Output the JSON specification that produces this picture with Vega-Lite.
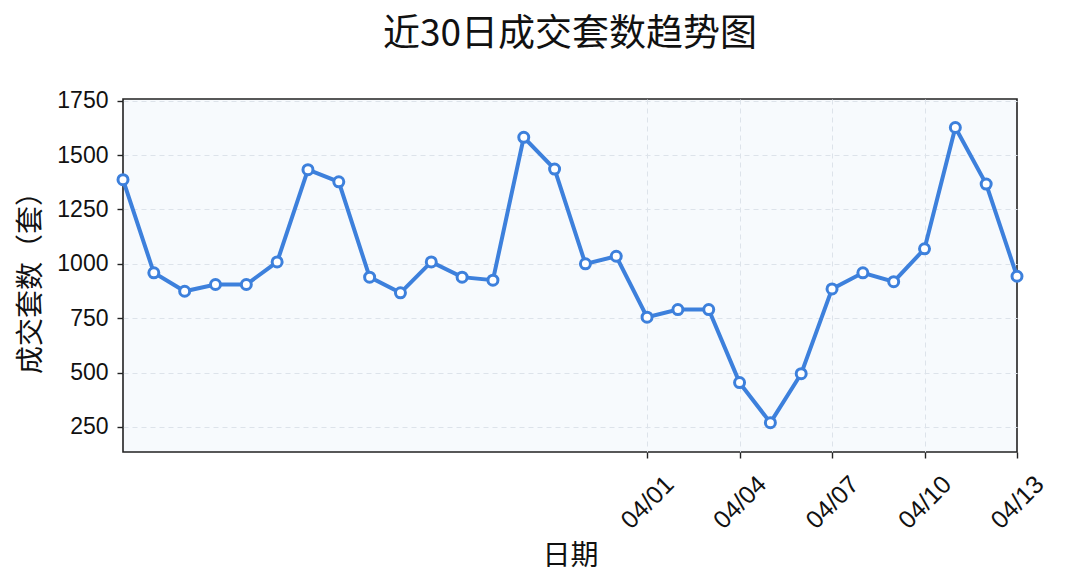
{
  "$schema": "https://vega.github.io/schema/vega-lite/v6.json",
  "width": 894,
  "height": 353,
  "autosize": "none",
  "padding": {"left": 123, "top": 99, "right": 48, "bottom": 133},
  "background": "white",
  "title": {
    "text": "近30日成交套数趋势图",
    "font": "Noto Sans CJK SC",
    "fontSize": 37,
    "fontWeight": "normal",
    "color": "#111111",
    "anchor": "middle",
    "offset": 36
  },
  "config": {
    "view": {"fill": "#f7fafd", "stroke": "#222222", "strokeWidth": 1.6},
    "axis": {
      "labelFont": "Liberation Sans",
      "labelFontSize": 23,
      "labelColor": "#111111",
      "titleFont": "Noto Sans CJK SC",
      "titleFontSize": 28,
      "titleFontWeight": "normal",
      "titleColor": "#111111",
      "domain": false,
      "tickColor": "#222222",
      "tickSize": 6,
      "tickWidth": 1.4,
      "grid": true,
      "gridColor": "#dde3ea",
      "gridDash": [5, 4],
      "gridWidth": 1
    }
  },
  "data": {
    "values": [
      {"date": "2024-03-15", "count": 1387},
      {"date": "2024-03-16", "count": 959},
      {"date": "2024-03-17", "count": 874},
      {"date": "2024-03-18", "count": 905},
      {"date": "2024-03-19", "count": 905},
      {"date": "2024-03-20", "count": 1009},
      {"date": "2024-03-21", "count": 1433},
      {"date": "2024-03-22", "count": 1377},
      {"date": "2024-03-23", "count": 939},
      {"date": "2024-03-24", "count": 867},
      {"date": "2024-03-25", "count": 1009},
      {"date": "2024-03-26", "count": 939},
      {"date": "2024-03-27", "count": 925},
      {"date": "2024-03-28", "count": 1582},
      {"date": "2024-03-29", "count": 1436},
      {"date": "2024-03-30", "count": 1000},
      {"date": "2024-03-31", "count": 1035},
      {"date": "2024-04-01", "count": 755},
      {"date": "2024-04-02", "count": 790},
      {"date": "2024-04-03", "count": 790},
      {"date": "2024-04-04", "count": 454},
      {"date": "2024-04-05", "count": 270},
      {"date": "2024-04-06", "count": 495},
      {"date": "2024-04-07", "count": 885},
      {"date": "2024-04-08", "count": 959},
      {"date": "2024-04-09", "count": 918},
      {"date": "2024-04-10", "count": 1069},
      {"date": "2024-04-11", "count": 1627},
      {"date": "2024-04-12", "count": 1367},
      {"date": "2024-04-13", "count": 943}
    ]
  },
  "encoding": {
    "x": {
      "field": "date",
      "type": "temporal",
      "title": "日期",
      "scale": {
        "type": "utc",
        "domain": [
          {"year": 2024, "month": 3, "date": 15, "utc": true},
          {"year": 2024, "month": 4, "date": 13, "utc": true}
        ],
        "nice": false
      },
      "axis": {
        "values": [
          {"year": 2024, "month": 4, "date": 1, "utc": true},
          {"year": 2024, "month": 4, "date": 4, "utc": true},
          {"year": 2024, "month": 4, "date": 7, "utc": true},
          {"year": 2024, "month": 4, "date": 10, "utc": true},
          {"year": 2024, "month": 4, "date": 13, "utc": true}
        ],
        "format": "%m/%d",
        "labelFontSize": 25,
        "labelAngle": -45,
        "labelAlign": "center",
        "labelBaseline": "middle",
        "labelPadding": 44,
        "labelFlush": false,
        "labelOverlap": false,
        "titlePadding": 9,
        "gridOpacity": {"condition": {"test": "datum.value >= utc(2024,3,12)", "value": 0}, "value": 1}
      }
    },
    "y": {
      "field": "count",
      "type": "quantitative",
      "title": "成交套数（套）",
      "scale": {"domain": [135, 1758], "nice": false, "zero": false},
      "axis": {
        "values": [250, 500, 750, 1000, 1250, 1500, 1750],
        "format": "d",
        "labelPadding": 9,
        "titlePadding": 11
      }
    }
  },
  "layer": [
    {
      "mark": {"type": "line", "color": "#3d80dc", "strokeWidth": 4, "clip": false}
    },
    {
      "mark": {
        "type": "point",
        "filled": true,
        "fill": "white",
        "stroke": "#3d80dc",
        "strokeWidth": 3,
        "size": 100,
        "opacity": 1,
        "clip": false
      }
    }
  ]
}
